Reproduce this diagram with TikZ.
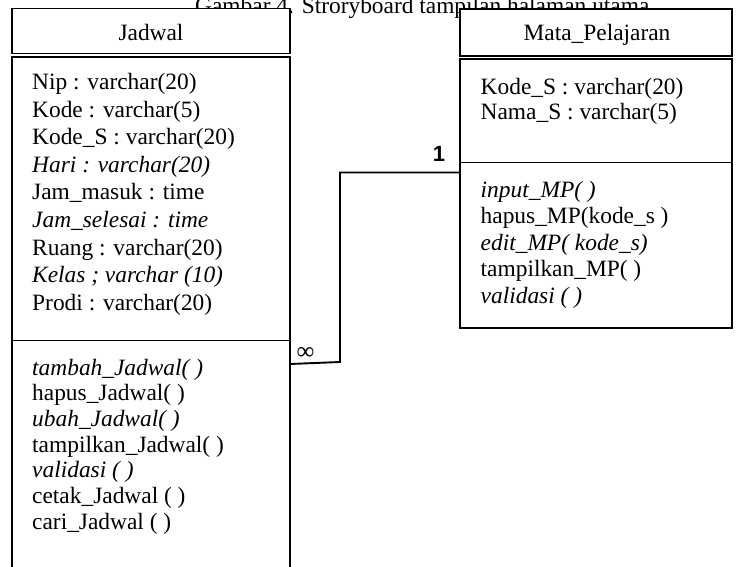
\documentclass[tikz,border=0pt]{standalone}
\usepackage{fontspec}
\setmainfont{Liberation Serif}
\newfontfamily\labelsans{Liberation Sans}
\begin{document}
\begin{tikzpicture}[x=1pt,y=-1pt,
  box/.style={draw=black,line width=1.9pt,fill=white},
  txt/.style={font=\fontsize{23.4}{28}\selectfont,inner sep=0pt,anchor=base west},
  head/.style={font=\fontsize{23.4}{28}\selectfont,inner sep=0pt,anchor=base},
  link/.style={draw=black,line width=1.9pt,line join=miter}]
\useasboundingbox (0,0) rectangle (739,567);
\clip (0,0) rectangle (739,567);

% caption lying behind the class boxes
\node[inner sep=0pt,anchor=base west,font=\fontsize{23.4}{28}\selectfont] (caption) at (195,13.5)
  {Gambar 4. Stroryboard tampilan halaman utama};

% class Jadwal
\draw[box] (12,8.5) rectangle (290,53.5);
\draw[box] (12,57) rectangle (290,620);
\draw[line width=1.9pt] (12,340.5) -- (290,340.5);
\node[head] (jname) at (151,41) {Jadwal};
\node[txt] (ja1) at (32,90)    {Nip : varchar(20)};
\node[txt] (ja2) at (32,117.5) {Kode : varchar(5)};
\node[txt] (ja3) at (32,145)   {Kode\_S : varchar(20)};
\node[txt] (ja4) at (32,172.5) {\itshape Hari : varchar(20)};
\node[txt] (ja5) at (32,200)   {Jam\_masuk : time};
\node[txt] (ja6) at (32,227.5) {\itshape Jam\_selesai : time};
\node[txt] (ja7) at (32,255)   {Ruang : varchar(20)};
\node[txt] (ja8) at (32,282.5) {\itshape Kelas ; varchar (10)};
\node[txt] (ja9) at (32,310)   {Prodi : varchar(20)};
\node[txt] (jm1) at (32,375)   {\itshape tambah\_Jadwal( )};
\node[txt] (jm2) at (32,400.7) {hapus\_Jadwal( )};
\node[txt] (jm3) at (32,426.4) {\itshape ubah\_Jadwal( )};
\node[txt] (jm4) at (32,452)   {tampilkan\_Jadwal( )};
\node[txt] (jm5) at (32,477.8) {\itshape validasi ( )};
\node[txt] (jm6) at (32,503.5) {cetak\_Jadwal ( )};
\node[txt] (jm7) at (32,529)   {cari\_Jadwal ( )};

% class Mata_Pelajaran
\draw[box] (460,9) rectangle (732,56);
\draw[box] (460,59) rectangle (732,328);
\draw[line width=1.9pt] (460,162.5) -- (732,162.5);
\node[head] (mname) at (597,40.5) {Mata\_Pelajaran};
\node[txt] (ma1) at (480.5,95)  {Kode\_S : varchar(20)};
\node[txt] (ma2) at (480.5,120) {Nama\_S : varchar(5)};
\node[txt] (mm1) at (480.5,197)   {\itshape input\_MP( )};
\node[txt] (mm2) at (480.5,223.5) {hapus\_MP(kode\_s )};
\node[txt] (mm3) at (480.5,250)   {\itshape edit\_MP( kode\_s)};
\node[txt] (mm4) at (480.5,276.5) {tampilkan\_MP( )};
\node[txt] (mm5) at (480.5,303)   {\itshape validasi ( )};

% association between the two classes
\coordinate (jport) at (290,364);
\coordinate (bend) at (340,362);
\coordinate (mport) at (460,172.5);
\draw[link] (jport) -- (bend) |- (mport);
\node[inner sep=0pt,font=\labelsans\bfseries\fontsize{22}{26}\selectfont] (one) at (439,154) {1};
\node[inner sep=0pt,font=\fontsize{25}{29}\selectfont] (many) at (305.5,353) {∞};
\end{tikzpicture}
\end{document}
